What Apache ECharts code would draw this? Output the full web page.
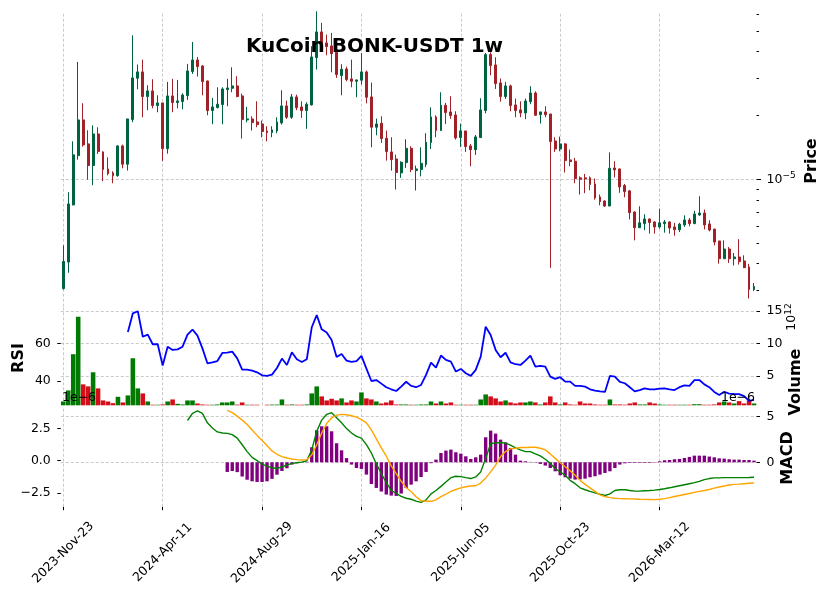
<!DOCTYPE html>
<html><head><meta charset="utf-8">
<script src="https://cdn.jsdelivr.net/npm/echarts@6/dist/echarts.min.js"></script>
<style>html,body{margin:0;padding:0;background:#fff}#c{width:831px;height:599px}</style>
</head><body><div id="c"></div>
<script>
// ---- Data (prices in units of 1e-6 USDT, volume in units of 1e12, MACD in units of 1e-6) ----
const xTickLabels = ['2023-Nov-23','2024-Apr-11','2024-Aug-29','2025-Jan-16','2025-Jun-05','2025-Oct-23','2026-Mar-12'];
const priceMinorTicks = [3e-6,4e-6,5e-6,6e-6,7e-6,8e-6,9e-6,2e-5,3e-5,4e-5,5e-5,6e-5];
const open = [3.05,4.07,7.57,12.93,19.06,14.69,11.61,16.36,13.46,11.19,
10.72,10.40,14.37,11.78,19.13,29.98,32.11,24.55,26.11,22.27,
22.92,13.95,24.73,23.01,23.25,24.82,32.22,36.56,34.25,29.10,
21.09,21.78,22.52,26.49,26.87,27.58,24.73,19.06,19.27,18.65,
18.24,16.91,16.61,16.91,18.45,22.19,19.62,24.47,21.94,21.09,
22.44,37.49,49.57,43.99,42.59,39.71,30.84,33.16,29.76,29.00,
29.33,32.11,24.47,17.60,18.38,15.62,13.46,12.47,10.72,11.99,
14.00,10.99,11.11,11.74,14.90,19.69,16.98,22.35,20.79,20.11,
15.73,16.91,14.37,13.80,15.73,21.09,38.74,34.64,28.49,24.55,
27.58,22.44,21.25,20.56,23.25,25.54,20.18,20.79,20.33,15.17,
13.90,14.69,12.34,12.16,10.16,10.16,10.16,9.51,8.26,7.90,
7.48,11.31,11.19,9.34,8.82,7.01,5.91,6.18,6.50,6.29,
5.96,6.18,6.29,5.96,5.78,6.09,6.43,6.18,6.79,6.93,
6.16,5.82,5.12,4.22,4.69,4.22,4.30,4.12,3.86,3.02];
const close = [4.10,7.65,13.04,19.06,14.53,11.61,16.36,13.51,11.11,10.64,
10.40,14.37,11.78,19.27,30.08,32.11,24.55,26.11,22.27,22.92,
13.95,24.73,23.01,23.43,24.99,32.46,36.56,34.01,28.90,21.09,
21.94,22.60,26.68,26.97,27.58,24.55,19.13,19.27,18.51,18.11,
16.79,16.61,17.10,18.65,22.19,19.62,24.47,21.78,21.09,22.60,
37.77,49.57,42.90,42.27,39.15,31.17,33.04,29.54,29.00,29.43,
32.11,24.38,17.60,18.24,15.56,13.51,12.38,10.76,12.03,14.00,
11.11,11.19,11.90,14.95,19.69,16.98,22.35,20.63,19.97,15.68,
16.91,14.26,13.80,15.85,21.25,38.74,34.38,28.29,24.55,27.58,
22.27,21.09,20.56,23.42,25.54,20.04,20.79,20.18,15.06,13.90,
14.69,12.25,12.12,10.08,10.00,10.04,9.45,8.17,7.84,7.48,
11.27,11.07,9.20,8.75,6.96,5.91,6.23,6.50,6.25,5.96,
6.23,6.29,5.89,5.78,6.14,6.43,6.18,6.86,6.93,6.09,
5.76,5.06,4.22,4.69,4.22,4.30,4.09,3.83,3.02,3.12];
const high = [4.88,8.69,15.11,35.78,22.84,17.04,17.98,17.60,13.56,12.70,
10.92,14.47,14.58,19.27,47.79,34.77,36.69,27.78,29.65,24.91,
22.92,28.80,29.76,29.43,25.45,35.02,44.46,37.77,34.52,29.20,
24.20,27.17,27.17,29.76,33.76,30.63,25.36,21.94,19.83,23.33,
18.92,17.79,17.79,19.62,26.30,23.50,25.27,25.08,23.33,23.09,
42.43,62.01,54.66,48.13,49.03,41.65,34.90,34.01,36.69,29.54,
39.44,32.57,28.59,19.34,19.83,16.98,15.79,13.07,12.16,15.45,
14.32,11.61,14.16,16.49,21.86,20.04,25.73,22.92,24.64,20.94,
18.31,16.91,14.69,16.18,24.12,39.44,39.71,37.63,29.87,28.80,
27.98,24.03,23.33,24.03,27.48,26.01,20.79,22.11,20.33,15.79,
15.90,14.80,13.80,12.61,10.32,10.60,10.32,10.08,8.47,7.96,
13.40,12.16,11.23,9.51,8.88,7.06,7.46,6.84,6.52,6.34,
7.27,6.43,6.34,6.23,6.23,6.76,6.57,7.11,8.32,7.20,
6.41,5.85,5.12,5.15,4.79,4.49,5.22,4.38,3.99,3.24];
const low = [3.02,3.62,7.54,12.38,14.26,9.96,9.38,13.17,9.79,10.44,
9.58,10.28,11.27,10.99,18.58,26.59,19.62,21.17,21.62,20.71,
12.21,13.21,20.71,21.62,21.40,23.68,31.40,30.52,24.90,20.04,
18.18,21.62,18.18,22.11,25.73,24.38,15.56,18.58,16.98,17.60,
15.79,15.11,15.79,16.49,18.11,19.27,19.27,21.17,19.48,17.29,
22.27,32.92,41.96,38.46,31.99,30.08,24.90,29.00,27.17,24.38,
27.98,22.84,14.16,16.13,14.85,12.25,10.99,8.94,10.16,11.31,
10.80,8.85,10.32,11.40,13.90,15.79,16.98,18.24,19.27,15.39,
14.21,13.46,11.52,13.03,15.73,20.48,30.95,26.68,23.25,23.93,
20.94,19.62,19.62,19.20,22.60,19.97,18.31,19.62,3.82,13.46,
13.56,10.76,11.52,9.58,8.47,8.60,8.88,8.02,7.54,7.40,
7.48,10.20,8.63,8.23,6.46,5.15,5.89,5.75,5.54,5.54,
5.85,5.60,5.54,5.42,5.64,5.96,6.00,6.14,6.72,5.80,
5.68,4.88,4.00,4.22,4.03,3.92,3.96,3.81,2.74,2.97];
const volume = [1.08,2.78,8.35,14.12,3.71,3.40,5.57,3.09,1.24,1.08,
0.82,1.80,0.93,2.01,7.73,3.09,2.32,1.08,0.58,0.58,
0.62,1.08,1.39,0.72,0.62,1.24,1.24,0.77,0.62,0.58,
0.58,0.62,0.93,0.93,1.08,0.60,0.93,0.58,0.58,0.58,
0.30,0.58,0.60,0.60,1.39,0.58,0.62,0.58,0.58,0.62,
2.32,3.40,1.86,1.24,1.49,1.24,1.55,0.93,1.24,1.08,
2.47,1.55,1.39,1.08,0.77,0.93,1.24,0.62,0.62,0.62,
0.58,0.58,0.62,0.62,1.08,0.77,1.08,0.77,0.93,0.58,
0.58,0.58,0.58,0.58,1.39,2.16,1.86,1.55,1.08,1.24,
0.93,0.77,0.93,0.93,1.08,0.93,0.62,0.93,1.86,0.93,
0.62,0.93,0.62,0.58,1.08,0.77,0.77,0.62,0.58,0.58,
1.39,0.62,0.62,0.58,0.77,0.93,0.62,0.62,0.93,0.77,
0.62,0.58,0.58,0.58,0.58,0.58,0.58,0.66,0.66,0.58,
0.58,0.62,0.93,1.08,0.93,0.77,1.13,0.77,1.24,0.77];
const rsi = Array(13).fill(null).concat([66.0,75.9,77.0,63.5,64.6,59.5,59.5,48.2,58.2,56.5,
56.8,58.2,64.6,67.3,64.1,57.3,49.4,49.9,50.6,54.9,
55.0,55.6,52.0,46.0,46.0,45.5,44.6,43.0,42.7,43.4,
46.9,51.9,48.5,55.2,51.5,50.1,51.5,68.5,75.0,67.4,
65.7,61.8,52.7,54.3,50.8,50.1,50.6,53.3,46.6,40.0,
40.5,38.6,36.7,35.6,34.7,37.0,39.6,37.4,36.7,37.9,
43.2,49.7,47.1,53.5,51.2,50.3,45.0,46.4,44.1,42.7,
45.9,52.9,68.8,64.4,56.5,52.6,55.0,49.9,48.9,48.5,
50.8,53.5,47.6,48.0,47.6,42.3,41.1,42.0,39.7,39.7,
37.4,37.4,37.0,35.6,34.9,34.5,34.2,42.7,42.3,39.5,
38.8,36.7,34.5,35.2,36.1,35.6,35.6,36.0,36.1,35.6,
35.2,36.7,37.7,37.4,40.5,40.5,38.2,36.7,34.2,32.6,
34.3,33.3,33.1,33.0,32.0,29.5,30.0]);
const macd = Array(25).fill(null).concat([3.13,3.68,3.87,3.68,2.95,2.55,2.24,2.16,2.13,2.03,
1.76,1.24,0.71,0.26,0.0,-0.26,-0.42,-0.55,-0.61,-0.47,
-0.34,-0.21,-0.16,-0.11,0.0,0.84,2.29,3.16,3.61,3.74,
3.34,2.95,2.50,2.16,1.89,1.76,1.25,0.6,-0.25,-1.0,
-1.7,-2.3,-2.55,-2.78,-2.92,-3.0,-3.15,-3.24,-3.05,-2.58,
-2.32,-2.0,-1.66,-1.32,-1.21,-1.24,-1.32,-1.39,-1.26,-0.87,
0.18,1.32,1.39,1.42,1.37,1.21,1.0,0.84,0.71,0.71,
0.53,0.37,0.11,-0.21,-0.61,-0.87,-1.13,-1.53,-1.79,-2.11,
-2.26,-2.39,-2.50,-2.61,-2.71,-2.58,-2.32,-2.26,-2.26,-2.32,
-2.37,-2.37,-2.34,-2.32,-2.29,-2.24,-2.18,-2.11,-2.03,-1.95,
-1.87,-1.79,-1.71,-1.61,-1.47,-1.39,-1.34,-1.34,-1.32,-1.32,
-1.32,-1.32,-1.32,-1.31,-1.29]);
const signal = Array(33).fill(null).concat([3.92,3.74,3.47,3.16,2.82,2.39,1.97,1.58,1.18,0.76,
0.50,0.32,0.21,0.13,0.08,0.05,0.08,0.45,1.24,2.16,
2.89,3.34,3.55,3.61,3.58,3.50,3.39,3.2,2.95,2.4,
1.7,1.0,0.35,-0.4,-1.0,-1.6,-2.1,-2.4,-2.8,-3.11,
-3.16,-3.16,-3.05,-2.79,-2.61,-2.39,-2.24,-2.11,-2.03,-1.97,
-1.95,-1.74,-1.34,-0.87,-0.34,0.32,0.71,0.92,0.97,1.03,
1.03,1.05,1.05,0.97,0.84,0.53,0.18,-0.16,-0.47,-0.79,
-1.13,-1.53,-1.84,-2.11,-2.39,-2.66,-2.79,-2.87,-2.92,-2.95,
-2.96,-2.97,-2.98,-3.0,-3.01,-3.02,-3.03,-3.0,-2.95,-2.87,
-2.79,-2.71,-2.63,-2.55,-2.47,-2.39,-2.32,-2.24,-2.13,-2.05,
-1.97,-1.89,-1.84,-1.82,-1.79,-1.76,-1.74]);
const histogram = Array(33).fill(null).concat([-1.05,-0.95,-1.07,-1.55,-1.9,-2.07,-2.14,-2.14,-2.07,-1.8,
-1.35,-0.95,-0.65,-0.25,-0.1,0.03,0.06,1.63,3.48,3.91,
3.91,3.37,2.07,1.30,0.45,-0.25,-0.62,-0.72,-1.34,-2.36,
-2.79,-3.18,-3.51,-3.62,-3.66,-3.4,-2.79,-2.43,-2.07,-1.6,
-1.05,-0.1,0.29,1.01,1.27,1.38,1.09,0.94,0.65,0.36,
0.54,0.83,2.72,3.44,3.12,2.46,2.17,1.56,0.83,0.18,
0.11,0.04,-0.04,-0.18,-0.36,-0.62,-0.98,-1.41,-1.63,-1.78,
-1.88,-1.85,-1.78,-1.63,-1.52,-1.34,-1.16,-0.98,-0.62,-0.25,
-0.11,-0.07,-0.07,-0.07,-0.07,-0.07,-0.04,0.11,0.22,0.25,
0.33,0.36,0.47,0.58,0.72,0.72,0.72,0.62,0.54,0.43,
0.40,0.33,0.29,0.29,0.25,0.25,0.18]);

// ---- categories: weekly candles ----
const MONTHS = ['Jan','Feb','Mar','Apr','May','Jun','Jul','Aug','Sep','Oct','Nov','Dec'];
const firstWeek = Date.UTC(2023, 10, 23);
const dates = open.map((_, i) => {
  const d = new Date(firstWeek + i * 7 * 86400000);
  return d.getUTCFullYear() + '-' + MONTHS[d.getUTCMonth()] + '-' + String(d.getUTCDate()).padStart(2, '0');
});

const FONT = 'DejaVu Sans';
const UP = '#006340', DOWN = '#a02128', VUP = '#007a00', VDOWN = '#d50d18';
const GRIDC = '#bdbdbd';
const isTick = (idx, val) => xTickLabels.indexOf(val) >= 0;
const minus = s => String(s).replace('-', '\u2212');
const vLines = {
  silent: true, z: 1, symbol: ['none', 'none'], label: {show: false},
  lineStyle: {type: [3, 2], color: GRIDC, width: 0.8},
  emphasis: {disabled: true},
  data: xTickLabels.map(d => ({xAxis: d}))
};
const tickStyle = {lineStyle: {color: '#000', width: 1}, length: 3.5};
const labelBase = {color: '#000', fontSize: 12.5, fontFamily: FONT, margin: 10};
const splitDashed = {show: true, lineStyle: {type: [3, 2], color: GRIDC, width: 0.8}};

const candleData = open.map((o, i) => [o * 1e-6, close[i] * 1e-6, low[i] * 1e-6, high[i] * 1e-6]);
const volData = volume.map((v, i) => ({value: v, itemStyle: {color: close[i] >= open[i] ? VUP : VDOWN}}));

const grids = [
  {left: 60.8, top: 11.7, width: 695.7, height: 295, outerBoundsMode: 'none', containLabel: false},
  {left: 60.8, top: 307.5, width: 695.7, height: 97.8, outerBoundsMode: 'none', containLabel: false},
  {left: 60.8, top: 407, width: 695.7, height: 99.7, outerBoundsMode: 'none', containLabel: false}
];

const xAxes = [0, 1, 2].map(g => ({
  type: 'category', gridIndex: g, data: dates, boundaryGap: true,
  axisLine: {show: false, onZero: false},
  axisTick: Object.assign({show: g === 2, alignWithLabel: true, interval: isTick}, tickStyle),
  axisLabel: {show: g === 2, interval: isTick, rotate: 45, align: 'center', verticalAlign: 'middle',
              margin: 46, fontSize: 12.5, color: '#000', fontFamily: FONT},
  splitLine: {show: false}
}));

const priceMin = 2.506e-6, priceMax = 6.174e-5;
const yAxes = [
  { // price
    type: 'log', logBase: 10, gridIndex: 0, position: 'right', min: priceMin, max: priceMax,
    axisLine: {show: false},
    axisTick: {show: true, customValues: [1e-5], length: 4.5, lineStyle: {color: '#000', width: 1}},
    axisLabel: Object.assign({}, labelBase, {
      customValues: [1e-5],
      formatter: v => { const e = Math.round(Math.log10(v)); return '{b|10}{s|' + (e < 0 ? '\u2212' : '') + Math.abs(e) + '}'; },
      rich: {b: {fontSize: 12.5, lineHeight: 16, fontFamily: FONT, color: '#000'},
             s: {fontSize: 9, lineHeight: 9, verticalAlign: 'top', fontFamily: FONT, color: '#000'}}
    }),
    splitLine: splitDashed
  },
  { // price minor ticks
    type: 'log', logBase: 10, gridIndex: 0, position: 'right', min: priceMin, max: priceMax,
    axisLine: {show: false},
    axisTick: {show: true, customValues: priceMinorTicks, length: 2.5, lineStyle: {color: '#000', width: 1}},
    axisLabel: {show: false}, splitLine: {show: false}
  },
  { // RSI
    type: 'value', gridIndex: 1, position: 'left', min: 27.1, max: 79.0,
    axisLine: {show: false},
    axisTick: Object.assign({show: true, customValues: [40, 60]}, tickStyle),
    axisLabel: Object.assign({}, labelBase, {customValues: [40, 60]}),
    splitLine: {show: false}
  },
  { // Volume
    type: 'value', gridIndex: 1, position: 'right', min: 0.49, max: 15.54,
    axisLine: {show: false},
    axisTick: Object.assign({show: true, customValues: [5, 10, 15]}, tickStyle),
    axisLabel: Object.assign({}, labelBase, {customValues: [5, 10, 15]}),
    splitLine: splitDashed
  },
  { // MACD lines
    type: 'value', gridIndex: 2, position: 'left', min: -3.58, max: 4.18,
    axisLine: {show: false},
    axisTick: Object.assign({show: true, customValues: [-2.5, 0, 2.5]}, tickStyle),
    axisLabel: Object.assign({}, labelBase, {customValues: [-2.5, 0, 2.5], formatter: v => minus(v.toFixed(1))}),
    splitLine: {show: false}
  },
  { // MACD histogram
    type: 'value', gridIndex: 2, position: 'right', min: -4.83, max: 6.01,
    axisLine: {show: false},
    axisTick: Object.assign({show: true, customValues: [0, 5]}, tickStyle),
    axisLabel: Object.assign({}, labelBase, {customValues: [0, 5]}),
    splitLine: splitDashed
  }
];

const txt = (text, x, y, size, weight, rot, align, extra) => Object.assign({
  type: 'text', x: x, y: y, rotation: rot || 0, z: 100,
  style: {text: text, fill: '#000', fontSize: size, fontWeight: weight || 'normal', fontFamily: FONT,
          align: align || 'center', verticalAlign: 'middle'}
}, extra || {});

const sup10 = txt('{b|10}{s|12}', 792, 317, 12.5, 'normal', Math.PI / 2, 'center');
sup10.style.rich = {b: {fontSize: 12.5, lineHeight: 16, fontFamily: FONT, fill: '#000'},
                    s: {fontSize: 9, lineHeight: 9, verticalAlign: 'top', fontFamily: FONT, fill: '#000'}};

const option = {
  animation: false,
  backgroundColor: '#fff',
  textStyle: {fontFamily: FONT},
  grid: grids,
  xAxis: xAxes,
  yAxis: yAxes,
  series: [
    {type: 'candlestick', xAxisIndex: 0, yAxisIndex: 0, data: candleData, barWidth: 2.4,
     itemStyle: {color: UP, color0: DOWN, borderColor: UP, borderColor0: DOWN, borderWidth: 1},
     markLine: vLines},
    {type: 'bar', xAxisIndex: 1, yAxisIndex: 3, data: volData, barWidth: '92%', markLine: vLines},
    {type: 'line', xAxisIndex: 1, yAxisIndex: 2, data: rsi, symbol: 'none', z: 5,
     lineStyle: {color: '#0000ff', width: 1.8}, itemStyle: {color: '#0000ff'}},
    {type: 'bar', xAxisIndex: 2, yAxisIndex: 5, data: histogram, barWidth: '68%',
     itemStyle: {color: '#800080'}, markLine: vLines},
    {type: 'line', xAxisIndex: 2, yAxisIndex: 4, data: macd, symbol: 'none', z: 5,
     lineStyle: {color: '#008000', width: 1.4}, itemStyle: {color: '#008000'}},
    {type: 'line', xAxisIndex: 2, yAxisIndex: 4, data: signal, symbol: 'none', z: 5,
     lineStyle: {color: '#ffa500', width: 1.4}, itemStyle: {color: '#ffa500'}}
  ],
  graphic: [
    txt('KuCoin BONK-USDT 1w', 374.5, 47, 20, 'bold'),
    txt('Price', 811.5, 161, 16, 'bold', Math.PI / 2),
    txt('RSI', 18.5, 358, 16, 'bold', Math.PI / 2),
    txt('Volume', 795.5, 382, 16, 'bold', Math.PI / 2),
    txt('MACD', 787.5, 458, 16, 'bold', Math.PI / 2),
    sup10,
    txt('1e\u22126', 62, 398, 12.5, 'normal', 0, 'left'),
    txt('1e\u22126', 755, 398, 12.5, 'normal', 0, 'right')
  ]
};

const chart = echarts.init(document.getElementById('c'), null, {renderer: 'canvas'});
chart.setOption(option);
</script></body></html>
